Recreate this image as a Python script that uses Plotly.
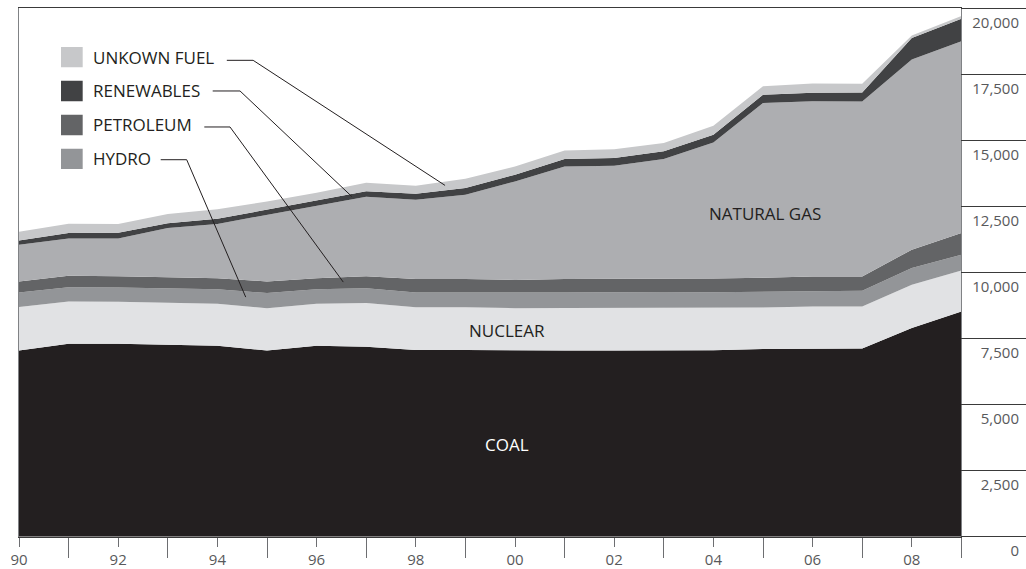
import plotly.graph_objects as go

years = list(range(1990, 2010))

# stacked layers, bottom to top
coal = [7045, 7300, 7300, 7260, 7225, 7045, 7225, 7185, 7070, 7070,
        7045, 7045, 7045, 7045, 7060, 7100, 7120, 7120, 7895, 8525]
nuclear = [1645, 1600, 1590, 1600, 1590, 1605, 1590, 1665, 1615, 1615,
           1605, 1615, 1615, 1605, 1590, 1575, 1590, 1590, 1640, 1555]
hydro = [555, 545, 540, 545, 555, 570, 555, 555, 555, 555,
         580, 580, 595, 590, 605, 595, 570, 595, 635, 595]
petroleum = [415, 430, 430, 415, 415, 440, 415, 455, 510, 510,
             490, 510, 505, 510, 515, 530, 570, 540, 695, 820]
natural_gas = [1390, 1415, 1425, 1865, 2055, 2525, 2740, 3005, 3005, 3195,
               3725, 4265, 4280, 4545, 5150, 6615, 6630, 6630, 7195, 7260]
renewables = [165, 205, 215, 180, 190, 190, 190, 210, 225, 255,
              255, 280, 290, 290, 290, 315, 320, 340, 820, 850]
unknown_fuel = [330, 350, 340, 350, 365, 315, 305, 320, 305, 350,
                315, 325, 335, 320, 340, 315, 350, 330, 90, 100]

x_tickvals = [1990, 1992, 1994, 1996, 1998, 2000, 2002, 2004, 2006, 2008]
x_ticktext = ["90", "92", "94", "96", "98", "00", "02", "04", "06", "08"]
x_minorvals = [1991, 1993, 1995, 1997, 1999, 2001, 2003, 2005, 2007, 2009]
y_tickvals = [0, 2500, 5000, 7500, 10000, 12500, 15000, 17500, 20000]
y_ticktext = ["0", "2,500", "5,000", "7,500", "10,000", "12,500", "15,000", "17,500", "20,000"]

FONT = "Open Sans"
INK = "#231f20"
W, H = 1026, 569

layers = [
    ("COAL", coal, "#231f20"),
    ("NUCLEAR", nuclear, "#e1e2e4"),
    ("HYDRO", hydro, "#939598"),
    ("PETROLEUM", petroleum, "#636466"),
    ("NATURAL GAS", natural_gas, "#adaeb1"),
    ("RENEWABLES", renewables, "#414244"),
    ("UNKOWN FUEL", unknown_fuel, "#c7c8ca"),
]

fig = go.Figure()
for name, vals, color in layers:
    fig.add_trace(go.Scatter(
        x=years, y=vals, name=name, mode="lines", stackgroup="one",
        line=dict(width=0, color=color), fillcolor=color,
        hoverinfo="skip", showlegend=False,
    ))

# dummy trace so the right-hand tick strip exists
fig.add_trace(go.Scatter(x=[], y=[], xaxis="x2", yaxis="y2", showlegend=False, hoverinfo="skip"))

# plot frame in pixels: left 19, right 961.4, top 8.3, bottom 536.7
plot_end = (961.4 - 19) / (W - 19)
y_dom = [(H - 536.7) / H, (H - 8.3) / H]
per_px = 20000 / (536.7 - 8.3)
y2_range = [-(H - 536.7) * per_px, 20000 + 8.3 * per_px]

# legend keys with leader lines (square centre, leader path points)
legend_items = [
    ("UNKOWN FUEL", "#c7c8ca", 18152, [(1994.19, 18031), (1994.72, 18031), (1998.59, 13296)]),
    ("RENEWABLES", "#414244", 16872, [(1993.905, 16871), (1994.456, 16871), (1996.708, 12879)]),
    ("PETROLEUM", "#636466", 15584, [(1993.736, 15508), (1994.254, 15508), (1996.538, 9637)]),
    ("HYDRO", "#939598", 14300, [(1992.857, 14269), (1993.381, 14269), (1994.571, 9068)]),
]

shapes = []
annotations = []
for label, color, yc, pts in legend_items:
    shapes.append(dict(type="rect", xref="x", yref="y", x0=1990.847, x1=1991.284,
                       y0=yc - 386, y1=yc + 386, fillcolor=color, line=dict(width=0)))
    path = "M " + " L ".join(f"{px},{py}" for px, py in pts)
    shapes.append(dict(type="path", xref="x", yref="y", path=path,
                       line=dict(color=INK, width=1)))
    annotations.append(dict(x=1991.46, y=yc, xref="x", yref="y", text=label,
                            showarrow=False, xanchor="left", yanchor="middle",
                            font=dict(family=FONT, size=17, color=INK)))

for text, xv, yv, col in [("NATURAL GAS", 2005.05, 12235, INK),
                          ("NUCLEAR", 1999.84, 7803, INK),
                          ("COAL", 1999.83, 3474, "white")]:
    annotations.append(dict(x=xv, y=yv, xref="x", yref="y", text=text, showarrow=False,
                            font=dict(family=FONT, size=17, color=col)))

fig.update_layout(
    width=W, height=H,
    margin=dict(l=19, r=0, t=0, b=0, pad=0, autoexpand=False),
    paper_bgcolor="white", plot_bgcolor="white",
    font=dict(family=FONT, color="#58595b"),
    hovermode=False,
    shapes=shapes,
    annotations=annotations,
    xaxis=dict(
        domain=[0, plot_end], range=[1990, 2009], anchor="y", automargin=False,
        tickmode="array", tickvals=x_tickvals, ticktext=x_ticktext,
        ticks="outside", ticklen=9, tickcolor="#6d6e71", tickwidth=1,
        ticklabelstandoff=0,
        minor=dict(tickmode="array", tickvals=x_minorvals, ticks="outside",
                   ticklen=20, tickcolor="#6d6e71", tickwidth=1, showgrid=False),
        tickfont=dict(family=FONT, size=15, color="#58595b"),
        showgrid=False, zeroline=False,
        showline=True, mirror=True, linecolor="#3a3a3a", linewidth=1,
        fixedrange=True,
    ),
    yaxis=dict(
        domain=y_dom, range=[0, 20000], anchor="x", automargin=False,
        showgrid=False, zeroline=False, showticklabels=False, ticks="",
        showline=True, mirror=True, linecolor="#808285", linewidth=1,
        fixedrange=True,
    ),
    xaxis2=dict(domain=[plot_end, 1], range=[0, 1], anchor="y2", visible=False,
                automargin=False, fixedrange=True),
    yaxis2=dict(
        domain=[0, 1], range=y2_range, anchor="x2", side="right", automargin=False,
        tickmode="array", tickvals=y_tickvals, ticktext=y_ticktext,
        ticklabelposition="inside bottom", ticklabelstandoff=4, ticklabelshift=4,
        ticks="",
        tickfont=dict(family=FONT, size=15, color="#58595b"),
        showgrid=True, gridcolor="#3a3a3a", gridwidth=1,
        zeroline=False, showline=False, fixedrange=True,
    ),
)

fig.write_html(
    "out.html",
    config={"displayModeBar": False},
    post_script="document.body.style.margin='0';document.body.style.overflow='hidden';",
)
